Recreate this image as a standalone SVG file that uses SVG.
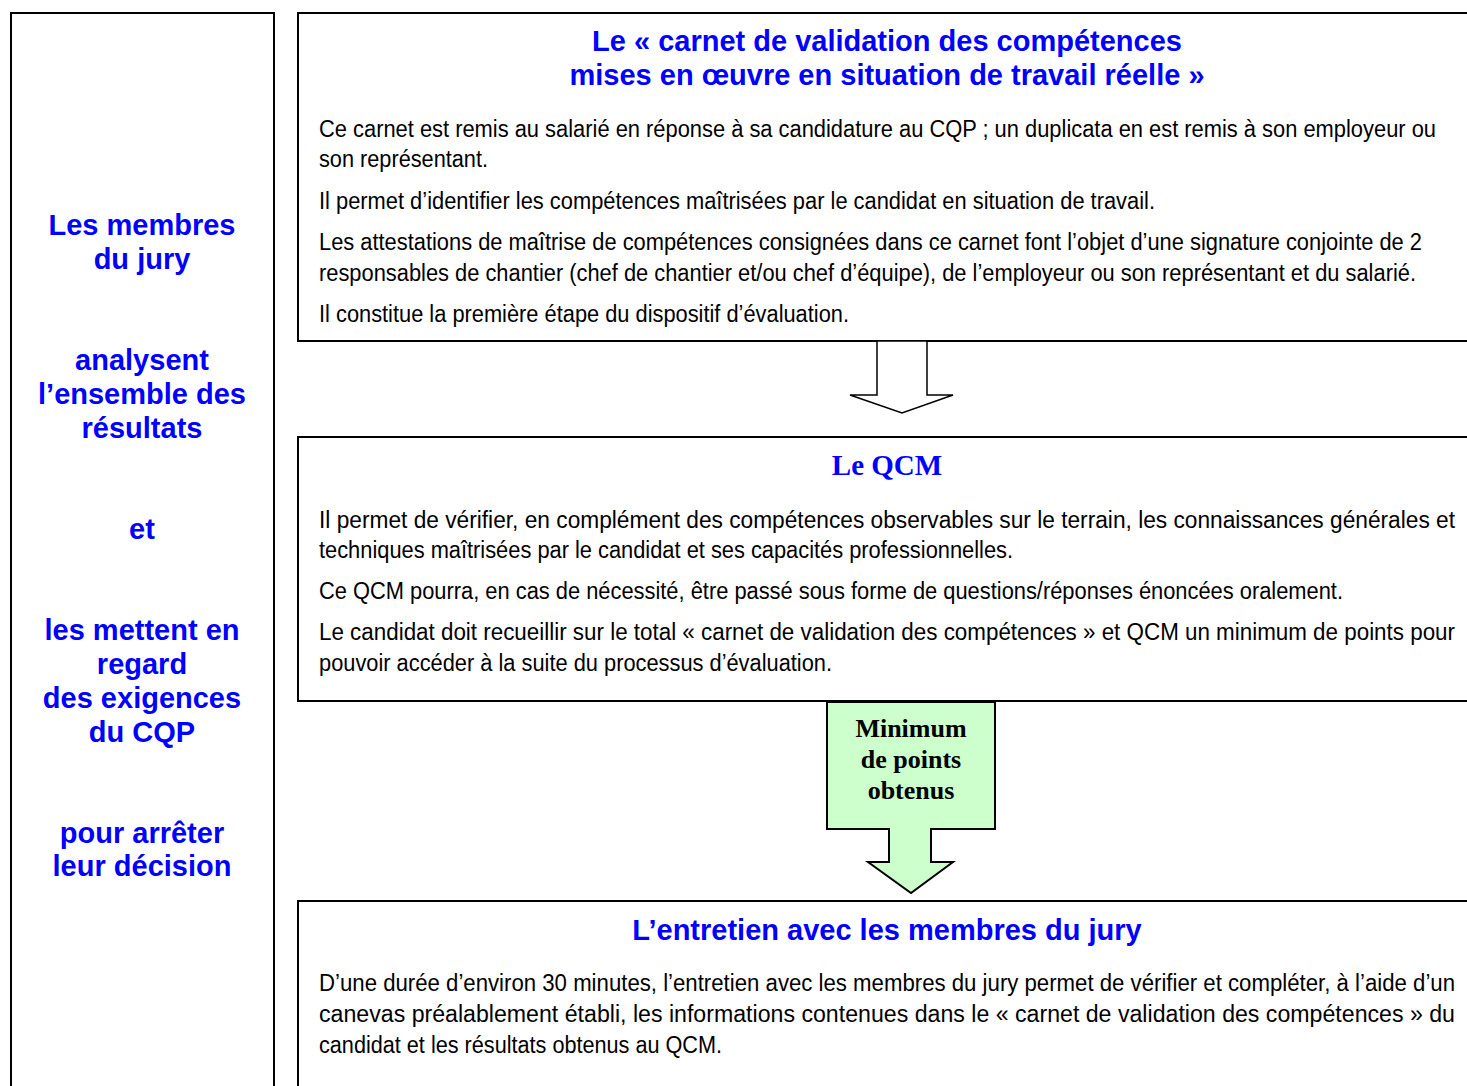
<svg xmlns="http://www.w3.org/2000/svg" width="1467" height="1086" viewBox="0 0 1467 1086">
<style>
.box{fill:#fff;stroke:#000;stroke-width:2}
.side{font-family:"Liberation Sans",Arial,sans-serif;font-weight:bold;font-size:29px;fill:#0000ff;text-anchor:middle}
.title{font-family:"Liberation Sans",Arial,sans-serif;font-weight:bold;font-size:29px;fill:#0000ff;text-anchor:middle}
.ttl-serif{font-family:"Liberation Serif","Times New Roman",serif;font-weight:bold;font-size:29px;fill:#0000ff;text-anchor:middle}
.body{font-family:"Liberation Sans",Arial,sans-serif;font-size:23px;fill:#000}
.arrow{fill:#fff;stroke:#000;stroke-width:1.5;stroke-linejoin:miter}
.garrow{fill:#ccffcc;stroke:#000;stroke-width:2;stroke-linejoin:miter}
.glabel{font-family:"Liberation Serif","Times New Roman",serif;font-weight:bold;font-size:26px;fill:#000;text-anchor:middle}
</style>
<rect width="1467" height="1086" fill="#fff"/>

<g id="jury">
<rect class="box" x="11" y="13" width="263" height="1100"/>
<text class="side" x="142" y="235">Les membres</text>
<text class="side" x="142" y="269">du jury</text>
<text class="side" x="142" y="370">analysent</text>
<text class="side" x="142" y="404">l’ensemble des</text>
<text class="side" x="142" y="438">résultats</text>
<text class="side" x="142" y="539">et</text>
<text class="side" x="142" y="640">les mettent en</text>
<text class="side" x="142" y="674">regard</text>
<text class="side" x="142" y="708">des exigences</text>
<text class="side" x="142" y="742">du CQP</text>
<text class="side" x="142" y="843">pour arrêter</text>
<text class="side" x="142" y="876">leur décision</text>
</g>

<g id="carnet">
<rect class="box" x="298" y="13" width="1200" height="328"/>
<text class="title" x="887" y="51">Le « carnet de validation des compétences</text>
<text class="title" x="887" y="85">mises en œuvre en situation de travail réelle »</text>
<text class="body" x="319" y="137" textLength="1117" lengthAdjust="spacingAndGlyphs">Ce carnet est remis au salarié en réponse à sa candidature au CQP ; un duplicata en est remis à son employeur ou</text>
<text class="body" x="319" y="167" textLength="169" lengthAdjust="spacingAndGlyphs">son représentant.</text>
<text class="body" x="319" y="209" textLength="836" lengthAdjust="spacingAndGlyphs">Il permet d’identifier les compétences maîtrisées par le candidat en situation de travail.</text>
<text class="body" x="319" y="250" textLength="1103" lengthAdjust="spacingAndGlyphs">Les attestations de maîtrise de compétences consignées dans ce carnet font l’objet d’une signature conjointe de 2</text>
<text class="body" x="319" y="281" textLength="1097" lengthAdjust="spacingAndGlyphs">responsables de chantier (chef de chantier et/ou chef d’équipe), de l’employeur ou son représentant et du salarié.</text>
<text class="body" x="319" y="322" textLength="530" lengthAdjust="spacingAndGlyphs">Il constitue la première étape du dispositif d’évaluation.</text>
</g>

<g id="qcm">
<rect class="box" x="298" y="437" width="1200" height="264"/>
<text class="ttl-serif" x="887" y="475">Le QCM</text>
<text class="body" x="319" y="528" textLength="1136" lengthAdjust="spacingAndGlyphs">Il permet de vérifier, en complément des compétences observables sur le terrain, les connaissances générales et</text>
<text class="body" x="319" y="558" textLength="694" lengthAdjust="spacingAndGlyphs">techniques maîtrisées par le candidat et ses capacités professionnelles.</text>
<text class="body" x="319" y="599" textLength="1024" lengthAdjust="spacingAndGlyphs">Ce QCM pourra, en cas de nécessité, être passé sous forme de questions/réponses énoncées oralement.</text>
<text class="body" x="319" y="640" textLength="1136" lengthAdjust="spacingAndGlyphs">Le candidat doit recueillir sur le total « carnet de validation des compétences » et QCM un minimum de points pour</text>
<text class="body" x="319" y="671" textLength="513" lengthAdjust="spacingAndGlyphs">pouvoir accéder à la suite du processus d’évaluation.</text>
</g>

<g id="entretien">
<rect class="box" x="298" y="901" width="1200" height="260"/>
<text class="title" x="887" y="940">L’entretien avec les membres du jury</text>
<text class="body" x="319" y="991" textLength="1136" lengthAdjust="spacingAndGlyphs">D’une durée d’environ 30 minutes, l’entretien avec les membres du jury permet de vérifier et compléter, à l’aide d’un</text>
<text class="body" x="319" y="1022" textLength="1136" lengthAdjust="spacingAndGlyphs">canevas préalablement établi, les informations contenues dans le « carnet de validation des compétences » du</text>
<text class="body" x="319" y="1053" textLength="403" lengthAdjust="spacingAndGlyphs">candidat et les résultats obtenus au QCM.</text>
</g>

<g id="connectors">
<polygon class="arrow" points="877,341 927,341 927,395 953,395 902,413 850,395 877,395"/>
<g id="minimum">
<polygon class="garrow" points="827,702 995,702 995,829 931,829 931,862 953,862 911,893 868,862 889,862 889,829 827,829"/>
<text class="glabel" x="911" y="737">Minimum</text>
<text class="glabel" x="911" y="768">de points</text>
<text class="glabel" x="911" y="799">obtenus</text>
</g>
</g>
</svg>
